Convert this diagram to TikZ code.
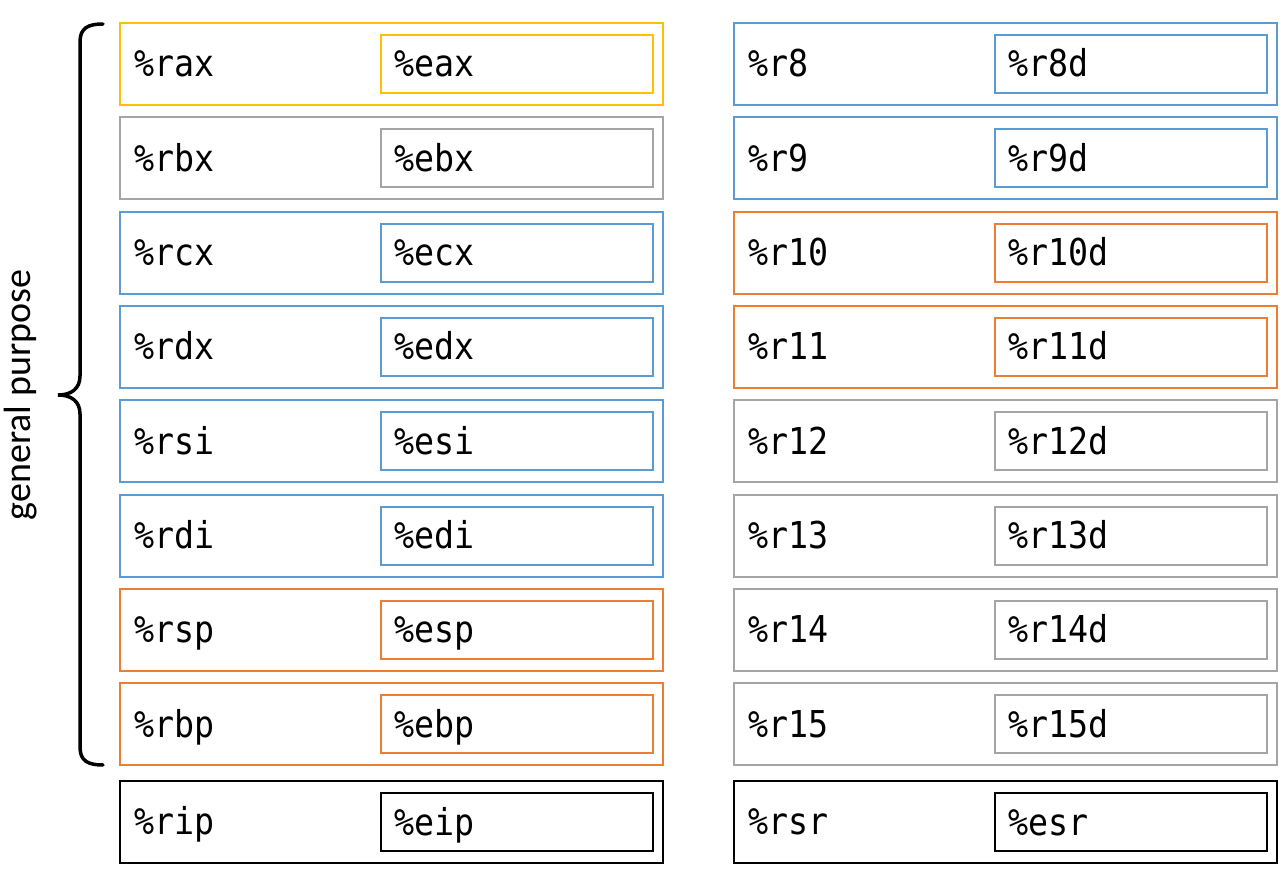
\documentclass[tikz,border=0pt]{standalone}
\usepackage{fontspec}
\setmainfont{Carlito}
\newfontfamily\regfont[FakeStretch=0.9]{DejaVu Sans Mono}
\definecolor{cyel}{HTML}{FFC000}
\definecolor{cgry}{HTML}{A5A5A5}
\definecolor{cblu}{HTML}{5B9BD5}
\definecolor{corg}{HTML}{ED7D31}
\definecolor{cblk}{HTML}{000000}
\tikzset{
  outerbox/.style={draw=#1, line width=2pt, minimum width=543pt, minimum height=82pt, inner sep=0pt},
  innerbox/.style={draw=#1, line width=2pt, minimum width=272pt, minimum height=58pt, inner sep=0pt},
  regtext/.style={anchor=base west, inner sep=0pt, font=\regfont\fontsize{37}{44}\selectfont},
  bracepath/.style={line width=3.5pt, line cap=round}
}
\begin{document}
\begin{tikzpicture}[x=1pt,y=-1pt]
\useasboundingbox (0,0) rectangle (1288,874);
% left column
\foreach \i/\r/\e/\c in {0/rax/eax/cyel,1/rbx/ebx/cgry,2/rcx/ecx/cblu,3/rdx/edx/cblu,4/rsi/esi/cblu,5/rdi/edi/cblu,6/rsp/esp/corg,7/rbp/ebp/corg}{
  \pgfmathsetmacro{\yc}{64+94.3*\i}
  \node[outerbox=\c] (L\i) at (391.5,\yc) {};
  \node[innerbox=\c] (LI\i) at (517,\yc) {};
  \node[regtext] (LT\i) at ([xshift=15pt,yshift=-13pt]L\i.west) {\%\r};
  \node[regtext] (LE\i) at ([xshift=14pt,yshift=-13pt]LI\i.west) {\%\e};
}
\node[outerbox=cblk] (L8) at (391.5,821.5) {};
\node[innerbox=cblk] (LI8) at (517,822) {};
\node[regtext] (LT8) at ([xshift=15pt,yshift=-13pt]L8.west) {\%rip};
\node[regtext] (LE8) at ([xshift=14pt,yshift=-13pt]LI8.west) {\%eip};
% right column
\foreach \i/\r/\e/\c in {0/r8/r8d/cblu,1/r9/r9d/cblu,2/r10/r10d/corg,3/r11/r11d/corg,4/r12/r12d/cgry,5/r13/r13d/cgry,6/r14/r14d/cgry,7/r15/r15d/cgry}{
  \pgfmathsetmacro{\yc}{64+94.3*\i}
  \node[outerbox=\c] (R\i) at (1005.5,\yc) {};
  \node[innerbox=\c] (RI\i) at (1131,\yc) {};
  \node[regtext] (RT\i) at ([xshift=15pt,yshift=-13pt]R\i.west) {\%\r};
  \node[regtext] (RE\i) at ([xshift=14pt,yshift=-13pt]RI\i.west) {\%\e};
}
\node[outerbox=cblk] (R8) at (1005.5,821.5) {};
\node[innerbox=cblk] (RI8) at (1131,822) {};
\node[regtext] (RT8) at ([xshift=15pt,yshift=-13pt]R8.west) {\%rsr};
\node[regtext] (RE8) at ([xshift=14pt,yshift=-13pt]RI8.west) {\%esr};
% brace
\draw[bracepath] (103,24) .. controls (88,24) and (80,28) .. (80,42) -- (80,376)
  .. controls (80,389) and (71,395) .. (58,395)
  .. controls (71,395) and (80,401) .. (80,414) -- (80,747)
  .. controls (80,761) and (88,765) .. (103,765);
\node[rotate=90, font=\fontsize{38}{44}\selectfont, inner sep=0pt] (gp) at (21,395) {general purpose};
\end{tikzpicture}
\end{document}
